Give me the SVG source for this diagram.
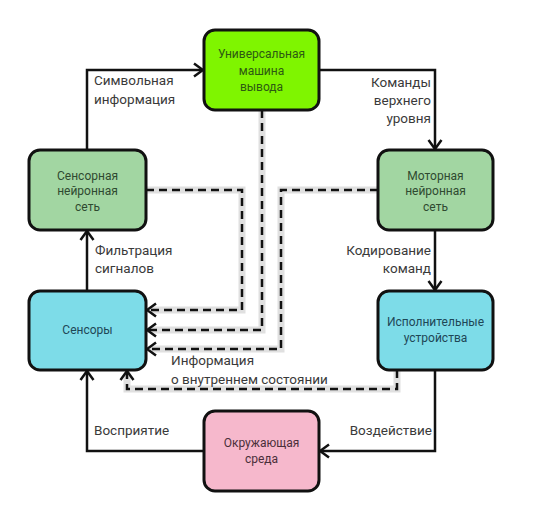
<svg xmlns="http://www.w3.org/2000/svg" width="541" height="521" viewBox="0 0 541 521">
<defs>
<style>
.node rect{stroke:#111;stroke-width:3}
.nt{font-family:Roboto,"Liberation Sans",sans-serif;font-size:12px;text-anchor:middle}
.lbl{font-family:Roboto,"Liberation Sans",sans-serif;font-size:13.5px;fill:#3a3a3a}
.solid{fill:none;stroke:#111;stroke-width:2.5}
.dash{fill:none;stroke:#111;stroke-width:2.5;stroke-dasharray:8 5}
.halo{fill:none;stroke:#e0e0e0;stroke-width:7}
</style>
<marker id="arr" markerUnits="userSpaceOnUse" viewBox="-12 -8 14 16" refX="0" refY="0" markerWidth="14" markerHeight="16" orient="auto">
<path d="M-9,-6.5 L0,0 L-9,6.5" fill="none" stroke="#111" stroke-width="2.5"/>
</marker>
</defs>
<rect width="541" height="521" fill="#fff"/>
<g id="connectors">
<g id="halos">
<path class="halo" d="M146,190 H242 V310 H150"/>
<path class="halo" d="M262,110 V330 H150"/>
<path class="halo" d="M378,190 H281 V349 H150"/>
<path class="halo" d="M397,370 V389 H127 V374"/>
</g>
<path class="solid" d="M87,150 V70 H203" marker-end="url(#arr)"/>
<path class="solid" d="M319,70 H435 V149" marker-end="url(#arr)"/>
<path class="solid" d="M435,230 V290" marker-end="url(#arr)"/>
<path class="solid" d="M87,291 V231" marker-end="url(#arr)"/>
<path class="solid" d="M435,370 V451 H320" marker-end="url(#arr)"/>
<path class="solid" d="M203,451 H87 V371" marker-end="url(#arr)"/>
<path class="dash" d="M146,190 H242 V310 H147" marker-end="url(#arr)"/>
<path class="dash" d="M262,110 V330 H147" marker-end="url(#arr)"/>
<path class="dash" d="M378,190 H281 V349 H147" marker-end="url(#arr)"/>
<path class="dash" d="M397,370 V389 H127 V371" marker-end="url(#arr)"/>
</g>
<g id="labels">
<text class="lbl" x="94" y="85">Символьная</text>
<text class="lbl" x="94" y="104">информация</text>
<text class="lbl" x="431" y="87" text-anchor="end">Команды</text>
<text class="lbl" x="431" y="105" text-anchor="end">верхнего</text>
<text class="lbl" x="431" y="123" text-anchor="end">уровня</text>
<text class="lbl" x="95" y="255">Фильтрация</text>
<text class="lbl" x="95" y="273">сигналов</text>
<text class="lbl" x="431" y="255" text-anchor="end">Кодирование</text>
<text class="lbl" x="431" y="273" text-anchor="end">команд</text>
<text class="lbl" x="171" y="365">Информация</text>
<text class="lbl" x="171" y="384">о внутреннем состоянии</text>
<text class="lbl" x="94" y="435">Восприятие</text>
<text class="lbl" x="432" y="435" text-anchor="end">Воздействие</text>
</g>
<g id="universal" class="node">
<rect x="204" y="30" width="115" height="80" rx="11" fill="#7ff500"/>
<text class="nt" fill="#2d5a12" x="261.5" y="58">Универсальная</text>
<text class="nt" fill="#2d5a12" x="261.5" y="74.5">машина</text>
<text class="nt" fill="#2d5a12" x="261.5" y="91">вывода</text>
</g>
<g id="sensory-net" class="node">
<rect x="29" y="150" width="117" height="80" rx="11" fill="#a2d6a2"/>
<text class="nt" fill="#2f4a30" x="87.5" y="179.5">Сенсорная</text>
<text class="nt" fill="#2f4a30" x="87.5" y="194.5">нейронная</text>
<text class="nt" fill="#2f4a30" x="87.5" y="210.5">сеть</text>
</g>
<g id="motor-net" class="node">
<rect x="378" y="150" width="115" height="80" rx="11" fill="#a2d6a2"/>
<text class="nt" fill="#2f4a30" x="435.5" y="179.5">Моторная</text>
<text class="nt" fill="#2f4a30" x="435.5" y="194.5">нейронная</text>
<text class="nt" fill="#2f4a30" x="435.5" y="210.5">сеть</text>
</g>
<g id="sensors" class="node">
<rect x="29" y="291" width="117" height="79" rx="11" fill="#7ddce8"/>
<text class="nt" fill="#1e4756" x="87.5" y="334">Сенсоры</text>
</g>
<g id="actuators" class="node">
<rect x="378" y="291" width="115" height="79" rx="11" fill="#7ddce8"/>
<text class="nt" fill="#1e4756" x="435.5" y="325.5">Исполнительные</text>
<text class="nt" fill="#1e4756" x="435.5" y="342">устройства</text>
</g>
<g id="environment" class="node">
<rect x="204" y="411" width="115" height="80" rx="11" fill="#f6b8cc"/>
<text class="nt" fill="#4a2f3a" x="261.5" y="446.5">Окружающая</text>
<text class="nt" fill="#4a2f3a" x="261.5" y="462.5">среда</text>
</g>
</svg>
